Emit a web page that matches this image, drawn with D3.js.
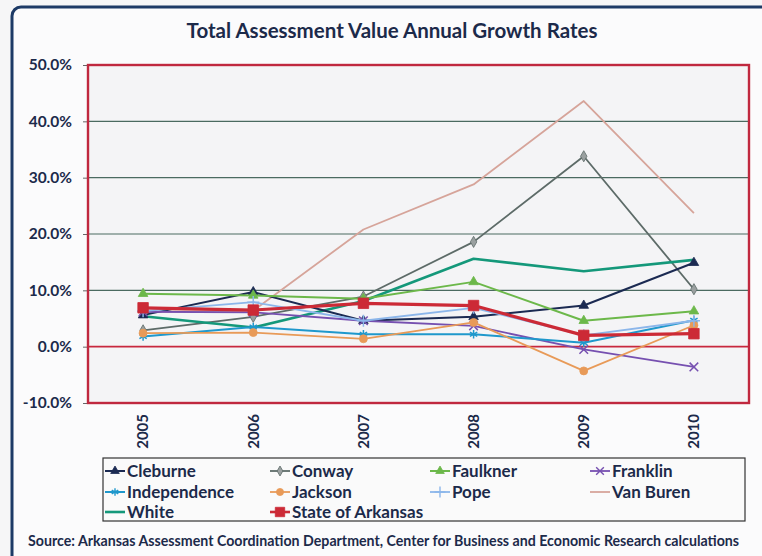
<!DOCTYPE html>
<html><head><meta charset="utf-8">
<script src="https://cdn.jsdelivr.net/npm/d3@7"></script>
<style>
html,body{margin:0;padding:0;background:#f6f6f7;}
svg{display:block;}
text{font-family:Lato,"Open Sans",sans-serif;font-weight:bold;}
</style></head>
<body>
<svg id="c" width="762" height="556"></svg>
<script>
const years = ["2005","2006","2007","2008","2009","2010"];
const seriesNames = ["Cleburne","Conway","Faulkner","Franklin","Independence","Jackson","Pope","Van Buren","White","State of Arkansas"];
const cleburne     = [5.6, 9.7, 4.6, 5.3, 7.3, 14.9];
const conway       = [2.9, 5.3, 8.9, 18.6, 33.8, 10.2];
const faulkner     = [9.4, 9.1, 8.5, 11.5, 4.6, 6.3];
const franklin     = [6.2, 6.1, 4.6, 3.7, -0.5, -3.6];
const independence = [1.8, 3.5, 2.2, 2.2, 0.7, 4.7];
const jackson      = [2.4, 2.5, 1.4, 4.3, -4.3, 3.8];
const pope         = [6.3, 7.9, 4.6, 6.9, 2.0, 4.6];
const vanBuren     = [6.2, 6.4, 20.8, 28.8, 43.6, 23.7];
const white        = [5.4, 3.4, 8.1, 15.6, 13.4, 15.4];
const stateAR      = [6.9, 6.5, 7.7, 7.3, 2.0, 2.3];
const yTicks = [-10, 0, 10, 20, 30, 40, 50];
const titleText = "Total Assessment Value Annual Growth Rates";
const sourceText = "Source: Arkansas Assessment Coordination Department, Center  for Business and Economic Research calculations";

const values = [cleburne, conway, faulkner, franklin, independence, jackson, pope, vanBuren, white, stateAR];
const styles = [
  {color:"#1b2a52", w:2,   sym:d3.symbolTriangle, fill:true,  size:40},
  {color:"#5d6b68", w:1.8, sym:d3.symbolDiamond,  fill:true,  size:36, mfill:"#9aa0a0"},
  {color:"#6cb84a", w:2,   sym:d3.symbolTriangle, fill:true,  size:40},
  {color:"#7650b0", w:1.8, sym:d3.symbolTimes,    fill:false, size:50},
  {color:"#1f98cc", w:2,   sym:d3.symbolAsterisk, fill:false, size:50},
  {color:"#e89a58", w:1.8, sym:d3.symbolCircle,   fill:true,  size:50},
  {color:"#8cb6ea", w:1.8, sym:d3.symbolPlus,     fill:false, size:50},
  {color:"#d6a49a", w:1.8, sym:null},
  {color:"#14987a", w:2.6, sym:null},
  {color:"#cc2a36", w:3.2, sym:d3.symbolSquare,   fill:true,  size:110}
];

const svg = d3.select("#c");
svg.append("rect").attr("x",12).attr("y",7).attr("width",820).attr("height",620).attr("rx",9)
  .attr("fill","#fbfbfc").attr("stroke","#1d3a66").attr("stroke-width",3);

svg.append("text").attr("x",392).attr("y",38).attr("text-anchor","middle")
  .attr("font-size",20.5).attr("fill","#1c2a4a").text(titleText);

const L=88,R=749,T=65,B=403;
const x = d3.scaleBand().domain(years).range([L,R]);
const y = d3.scaleLinear().domain([-10,50]).range([B,T]);

svg.append("rect").attr("x",L).attr("y",T).attr("width",R-L).attr("height",B-T).attr("fill","#f4f4f6");

svg.append("g").selectAll("line").data(yTicks.filter(d=>d>-10&&d<50)).join("line")
  .attr("x1",L).attr("x2",R).attr("y1",d=>y(d)).attr("y2",d=>y(d))
  .attr("stroke",d=>d===0?"#c8283e":"#4a6a60").attr("stroke-width",d=>d===0?1.6:1.2);

const yAxis = svg.append("g").attr("transform",`translate(${L},0)`)
  .call(d3.axisLeft(y).tickValues(yTicks).tickSize(5).tickPadding(11).tickFormat(d=>d.toFixed(1)+"%"));
yAxis.select(".domain").remove();
yAxis.selectAll(".tick line").attr("stroke","#666");
yAxis.selectAll("text").attr("font-size",15.5).attr("fill","#1c2a4a").attr("font-family","Lato,sans-serif").attr("font-weight","bold");

const xAxis = svg.append("g").attr("transform",`translate(0,${B})`)
  .call(d3.axisBottom(x).tickSize(0).tickPadding(0));
xAxis.select(".domain").remove();
xAxis.selectAll("text").attr("font-size",15).attr("fill","#1c2a4a")
  .attr("font-family","Lato,sans-serif").attr("font-weight","bold")
  .attr("transform","rotate(-90)").attr("text-anchor","end")
  .attr("x",-11).attr("y",0).attr("dy","0.35em");

svg.append("rect").attr("x",L).attr("y",T).attr("width",R-L).attr("height",B-T)
  .attr("fill","none").attr("stroke","#c0283f").attr("stroke-width",2.4);

const line = d3.line().x((d,i)=>x(years[i])+x.bandwidth()/2).y(d=>y(d));
const order = [7,1,8,0,2,3,4,5,6,9];
order.forEach(k=>{
  const s=styles[k];
  svg.append("path").datum(values[k]).attr("d",line).attr("fill","none")
    .attr("stroke",s.color).attr("stroke-width",s.w).attr("stroke-linejoin","round");
  if(s.sym){
    svg.append("g").selectAll("path").data(values[k]).join("path")
      .attr("transform",(d,i)=>`translate(${x(years[i])+x.bandwidth()/2},${y(d)})`)
      .attr("d",d3.symbol().type(s.sym).size(s.size))
      .attr("fill",s.fill?(s.mfill||s.color):"none")
      .attr("stroke",s.color).attr("stroke-width",s.fill?0.8:1.5);
  }
});

svg.append("rect").attr("x",103).attr("y",458).attr("width",642).attr("height",63)
  .attr("fill","#fafafa").attr("stroke","#333").attr("stroke-width",1.2);
const colX=[105,270,430,590], rowY=[471,492,512];
seriesNames.forEach((n,i)=>{
  const cx=colX[i%4], cy=rowY[Math.floor(i/4)], s=styles[i];
  const g=svg.append("g");
  g.append("line").attr("x1",cx).attr("x2",cx+20).attr("y1",cy).attr("y2",cy)
    .attr("stroke",s.color).attr("stroke-width",Math.min(s.w,2.6));
  if(s.sym){
    g.append("path").attr("transform",`translate(${cx+10},${cy})`)
      .attr("d",d3.symbol().type(s.sym).size(s.size*0.8))
      .attr("fill",s.fill?(s.mfill||s.color):"none")
      .attr("stroke",s.color).attr("stroke-width",s.fill?0.8:1.4);
  }
  g.append("text").attr("x",cx+22).attr("y",cy).attr("dy","0.35em")
    .attr("font-size",17).attr("fill","#1c2a4a").text(n);
});

svg.append("text").attr("x",28).attr("y",546).attr("font-size",14.2).attr("fill","#1c2a4a").text(sourceText);
</script>
</body></html>
